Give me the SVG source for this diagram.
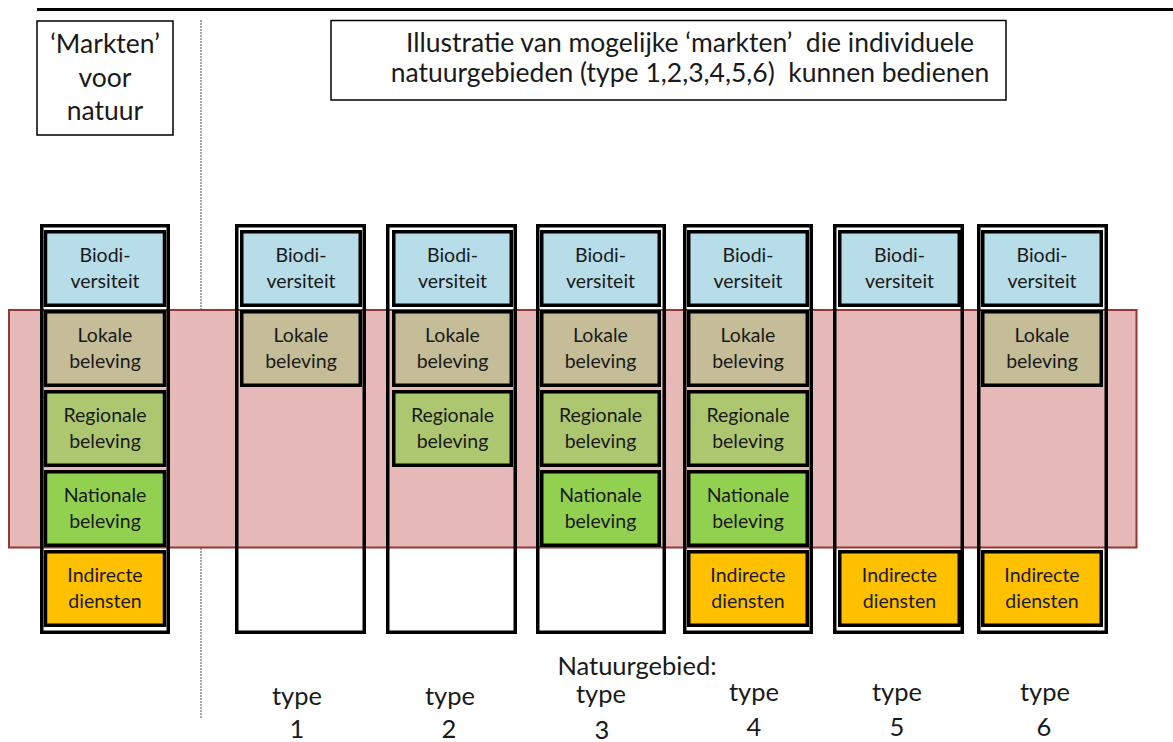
<svg xmlns="http://www.w3.org/2000/svg" width="1173" height="742" viewBox="0 0 1173 742">
<style>
text{font-family:Lato,"Liberation Sans",sans-serif;fill:#1a1a1a;text-anchor:middle}
.t{font-size:26.5px}
.b{font-size:19.5px}
.lab{font-size:25.5px}
.outer{fill:none;stroke:#000;stroke-width:3.5}
.box{stroke:#000;stroke-width:3.5}
.bio{fill:#B7DDE8}
.lok{fill:#C4BD97}
.reg{fill:#ADC771}
.nat{fill:#92D050}
.ind{fill:#FFC000}
</style>
<rect width="1173" height="742" fill="#fff"/>
<line x1="37" y1="9.5" x2="1173" y2="9.5" stroke="#000" stroke-width="3"/>
<line x1="201" y1="20" x2="201" y2="718" stroke="#8a8a8a" stroke-width="1.5" stroke-dasharray="2 1"/>
<g id="title-left">
<rect x="37" y="21" width="136" height="114" fill="#fff" stroke="#000" stroke-width="1.5"/>
<text class="t" x="105" y="53">‘Markten’</text>
<text class="t" x="105" y="87">voor</text>
<text class="t" x="105" y="120">natuur</text>
</g>
<g id="title-right">
<rect x="331" y="20.5" width="675" height="79.5" fill="#fff" stroke="#000" stroke-width="1.5"/>
<text class="t" x="690" y="52" xml:space="preserve">Illustratie van mogelijke ‘markten’  die individuele</text>
<text class="t" x="690" y="81.5" xml:space="preserve">natuurgebieden (type 1,2,3,4,5,6)  kunnen bedienen</text>
</g>
<g id="band">
<rect x="9" y="310" width="1127.5" height="237.5" fill="#E6B9B8" stroke="#953735" stroke-width="2"/>
</g>
<g id="col-markten">
<rect class="outer" x="41.75" y="225.75" width="126.5" height="406.5"/>
<rect class="box bio" x="45.5" y="231.75" width="119" height="73.5"/><text class="b" x="105" y="262">Biodi-</text><text class="b" x="105" y="288">versiteit</text>
<rect class="box lok" x="45.5" y="311.75" width="119" height="73.5"/><text class="b" x="105" y="342">Lokale</text><text class="b" x="105" y="368">beleving</text>
<rect class="box reg" x="45.5" y="391.75" width="119" height="73.5"/><text class="b" x="105" y="422">Regionale</text><text class="b" x="105" y="448">beleving</text>
<rect class="box nat" x="45.5" y="471.75" width="119" height="73.5"/><text class="b" x="105" y="502">Nationale</text><text class="b" x="105" y="528">beleving</text>
<rect class="box ind" x="45.5" y="551.75" width="119" height="73.5"/><text class="b" x="105" y="582">Indirecte</text><text class="b" x="105" y="608">diensten</text>
</g>
<g id="col-type1">
<rect class="outer" x="236.75" y="225.75" width="127.5" height="406.5"/>
<rect class="box bio" x="241.75" y="231.75" width="118.5" height="73.5"/><text class="b" x="301" y="262">Biodi-</text><text class="b" x="301" y="288">versiteit</text>
<rect class="box lok" x="241.75" y="311.75" width="118.5" height="73.5"/><text class="b" x="301" y="342">Lokale</text><text class="b" x="301" y="368">beleving</text>
</g>
<g id="col-type2">
<rect class="outer" x="387.75" y="225.75" width="127.5" height="406.5"/>
<rect class="box bio" x="393.75" y="231.75" width="117.5" height="73.5"/><text class="b" x="452.5" y="262">Biodi-</text><text class="b" x="452.5" y="288">versiteit</text>
<rect class="box lok" x="393.75" y="311.75" width="117.5" height="73.5"/><text class="b" x="452.5" y="342">Lokale</text><text class="b" x="452.5" y="368">beleving</text>
<rect class="box reg" x="393.75" y="391.75" width="117.5" height="73.5"/><text class="b" x="452.5" y="422">Regionale</text><text class="b" x="452.5" y="448">beleving</text>
</g>
<g id="col-type3">
<rect class="outer" x="537.75" y="225.75" width="126.5" height="406.5"/>
<rect class="box bio" x="541.75" y="231.75" width="117.5" height="73.5"/><text class="b" x="600.5" y="262">Biodi-</text><text class="b" x="600.5" y="288">versiteit</text>
<rect class="box lok" x="541.75" y="311.75" width="117.5" height="73.5"/><text class="b" x="600.5" y="342">Lokale</text><text class="b" x="600.5" y="368">beleving</text>
<rect class="box reg" x="541.75" y="391.75" width="117.5" height="73.5"/><text class="b" x="600.5" y="422">Regionale</text><text class="b" x="600.5" y="448">beleving</text>
<rect class="box nat" x="541.75" y="471.75" width="117.5" height="73.5"/><text class="b" x="600.5" y="502">Nationale</text><text class="b" x="600.5" y="528">beleving</text>
</g>
<g id="col-type4">
<rect class="outer" x="684.75" y="225.75" width="126.5" height="406.5"/>
<rect class="box bio" x="688.75" y="231.75" width="118.5" height="73.5"/><text class="b" x="748" y="262">Biodi-</text><text class="b" x="748" y="288">versiteit</text>
<rect class="box lok" x="688.75" y="311.75" width="118.5" height="73.5"/><text class="b" x="748" y="342">Lokale</text><text class="b" x="748" y="368">beleving</text>
<rect class="box reg" x="688.75" y="391.75" width="118.5" height="73.5"/><text class="b" x="748" y="422">Regionale</text><text class="b" x="748" y="448">beleving</text>
<rect class="box nat" x="688.75" y="471.75" width="118.5" height="73.5"/><text class="b" x="748" y="502">Nationale</text><text class="b" x="748" y="528">beleving</text>
<rect class="box ind" x="688.75" y="551.75" width="118.5" height="73.5"/><text class="b" x="748" y="582">Indirecte</text><text class="b" x="748" y="608">diensten</text>
</g>
<g id="col-type5">
<rect class="outer" x="834.75" y="225.75" width="127.5" height="406.5"/>
<rect class="box bio" x="839.75" y="231.75" width="119.5" height="73.5"/><text class="b" x="899.5" y="262">Biodi-</text><text class="b" x="899.5" y="288">versiteit</text>
<rect class="box ind" x="839.75" y="551.75" width="119.5" height="73.5"/><text class="b" x="899.5" y="582">Indirecte</text><text class="b" x="899.5" y="608">diensten</text>
</g>
<g id="col-type6">
<rect class="outer" x="978.75" y="225.75" width="127.5" height="406.5"/>
<rect class="box bio" x="982.75" y="231.75" width="118.5" height="73.5"/><text class="b" x="1042" y="262">Biodi-</text><text class="b" x="1042" y="288">versiteit</text>
<rect class="box lok" x="982.75" y="311.75" width="118.5" height="73.5"/><text class="b" x="1042" y="342">Lokale</text><text class="b" x="1042" y="368">beleving</text>
<rect class="box ind" x="982.75" y="551.75" width="118.5" height="73.5"/><text class="b" x="1042" y="582">Indirecte</text><text class="b" x="1042" y="608">diensten</text>
</g>
<g id="labels">
<text class="lab" x="637" y="675">Natuurgebied:</text>
<text class="lab" x="297" y="705">type</text><text class="lab" x="297" y="738">1</text>
<text class="lab" x="450" y="705">type</text><text class="lab" x="449" y="738">2</text>
<text class="lab" x="601" y="703">type</text><text class="lab" x="602" y="738.5">3</text>
<text class="lab" x="754" y="701">type</text><text class="lab" x="754" y="736">4</text>
<text class="lab" x="897" y="701">type</text><text class="lab" x="897" y="736">5</text>
<text class="lab" x="1045" y="701">type</text><text class="lab" x="1044" y="736">6</text>
</g>
<g id="connectors"></g>
</svg>
